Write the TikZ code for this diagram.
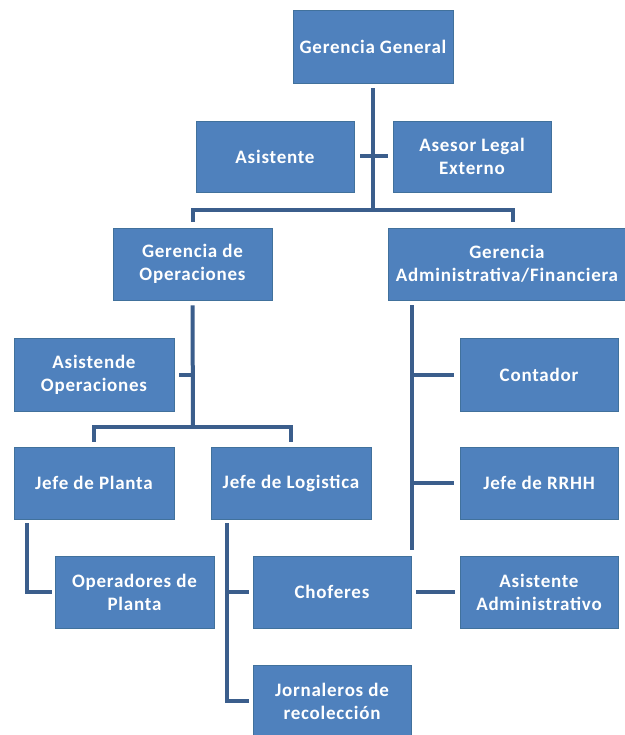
\documentclass[tikz,border=0pt]{standalone}
\usepackage{fontspec}
\setmainfont{Carlito}[LetterSpace=4]
\definecolor{boxblue}{HTML}{4F81BD}
\definecolor{boxedge}{HTML}{41719C}
\definecolor{linkblue}{HTML}{3B5E8C}
\begin{document}
\begin{tikzpicture}[x=1pt,y=-1pt,
  orgbox/.style={fill=boxblue, draw=boxedge, line width=0.6pt, text=white,
    font=\bfseries\fontsize{19}{23}\selectfont, align=center, inner sep=0pt},
  link/.style={draw=linkblue, line width=4pt}]
\useasboundingbox[fill=white] (0,0) rectangle (624,735);
% boxes
\node[orgbox, minimum width=160pt, minimum height=73pt] (gg) at (373,46.5) {Gerencia General};
\node[orgbox, minimum width=158pt, minimum height=71pt] (asis) at (275,156.5) {Asistente};
\node[orgbox, minimum width=158pt, minimum height=71pt] (asesor) at (472,156.5) {Asesor Legal\\Externo};
\node[orgbox, minimum width=159pt, minimum height=72pt] (gop) at (192.5,264) {Gerencia de\\Operaciones};
\node[orgbox, minimum width=238pt, minimum height=72pt] (gadm) at (507,264) {Gerencia\\Administrativa/Financiera};
\node[orgbox, minimum width=160pt, minimum height=73pt] (asop) at (94,374.5) {Asistende\\Operaciones};
\node[orgbox, minimum width=158pt, minimum height=73pt] (cont) at (539,374.5) {Contador};
\node[orgbox, minimum width=160pt, minimum height=72pt] (jpl) at (94,483) {Jefe de Planta};
\node[orgbox, minimum width=160pt, minimum height=72pt] (jlog) at (291,483) {Jefe de Logistica};
\node[orgbox, minimum width=158pt, minimum height=72pt] (rrhh) at (539,483) {Jefe de RRHH};
\node[orgbox, minimum width=159pt, minimum height=72pt] (oper) at (134.5,592) {Operadores de\\Planta};
\node[orgbox, minimum width=158pt, minimum height=72pt] (chof) at (332,592) {Choferes};
\node[orgbox, minimum width=158pt, minimum height=72pt] (asadm) at (539,592) {Asistente\\Administrativo};
\node[orgbox, minimum width=158pt, minimum height=72pt] (jorn) at (332,701) {Jornaleros de\\recolección};
% connectors
\coordinate (b1) at (373,210);
\draw[link] ([yshift=-5pt]gg.south) -- (b1);
\draw[link] ([yshift=6pt]gop.north) |- (b1) -| ([xshift=6pt,yshift=6pt]gadm.north);
\draw[link] ([xshift=6pt]asis.east) -- ([xshift=-5pt]asesor.west);
\coordinate (b2) at (193,427);
\draw[link] ([yshift=-5pt]gop.south) -- (b2);
\draw[link] ([yshift=5pt]jpl.north) |- (b2) -| ([yshift=5pt]jlog.north);
\draw[link] ([xshift=5pt]asop.east) -- (asop.east -| b2);
\coordinate (a1) at (412,305);
\coordinate (a2) at (412,550);
\draw[link] (a1) -- (a2);
\draw[link] (cont.west -| a2) -- ([xshift=-6pt]cont.west);
\draw[link] (rrhh.west -| a2) -- ([xshift=-6pt]rrhh.west);
\coordinate (p1) at (27,523);
\draw[link] (p1) |- ([xshift=-3pt]oper.west);
\coordinate (l1) at (227,523);
\draw[link] (l1) |- ([xshift=-4pt]jorn.west);
\draw[link] (chof.west -| l1) -- ([xshift=-4pt]chof.west);
\draw[link] ([xshift=5pt]chof.east) -- ([xshift=-5pt]asadm.west);
\end{tikzpicture}
\end{document}
